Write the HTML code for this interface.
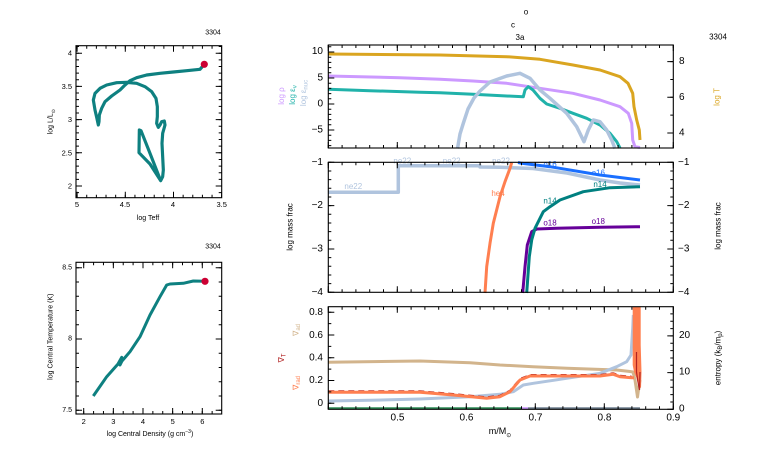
<!DOCTYPE html>
<html><head><meta charset="utf-8"><style>
html,body{margin:0;padding:0;background:#fff;}
svg{display:block;}
text{font-family:"Liberation Sans",sans-serif;}
</style></head><body>
<svg width="766" height="460" viewBox="0 0 766 460" xmlns="http://www.w3.org/2000/svg">
<rect width="766" height="460" fill="#fff"/>

<!-- ============ HR diagram (top-left) ============ -->
<text x="213" y="33" font-size="7" text-anchor="middle" dominant-baseline="central">3304</text>
<g transform="translate(40,30) scale(0.33333)" fill="none" stroke="#0e8080" stroke-width="9.5" stroke-linejoin="round" stroke-linecap="round">
<polyline points="362,452 330,402 297,368 298,300 303,302 330,370 362,452 368,440 370,420 368,380 366,340 368,310 375,285 373,273 365,275 360,285 355,292 350,280 352,260 352,230 348,205 335,185 315,170 290,160 260,157 230,158 200,165 180,175 165,190 160,210 165,240 170,262 175,285 177,275 178,255 185,235 195,215 215,198 240,180 255,165 270,152 290,143 320,135 360,130 400,126 440,122 480,118 493,103"/>
</g>
<circle cx="204.3" cy="64.3" r="3.6" fill="#cc0033"/>
<rect x="76" y="45.7" width="145.7" height="152" fill="none" stroke="#000" stroke-width="1.1"/>
<g stroke="#000" fill="none">
<line x1="76.6" y1="196.2" x2="222" y2="196.2" stroke-width="3" stroke-dasharray="1 8.64"/>
<line x1="76.6" y1="194.7" x2="222" y2="194.7" stroke-width="6" stroke-dasharray="1 47.2"/>
<line x1="76.6" y1="47.2" x2="222" y2="47.2" stroke-width="3" stroke-dasharray="1 8.64"/>
<line x1="76.6" y1="48.7" x2="222" y2="48.7" stroke-width="6" stroke-dasharray="1 47.2"/>
<line x1="77.5" y1="46.06" x2="77.5" y2="197" stroke-width="3" stroke-dasharray="1 5.64"/>
<line x1="79" y1="52.7" x2="79" y2="197" stroke-width="6" stroke-dasharray="1 32.2"/>
<line x1="220.2" y1="46.06" x2="220.2" y2="197" stroke-width="3" stroke-dasharray="1 5.64"/>
<line x1="218.7" y1="52.7" x2="218.7" y2="197" stroke-width="6" stroke-dasharray="1 32.2"/>
</g>
<g font-size="7.5" text-anchor="middle">
<text x="77" y="207">5</text><text x="125" y="207">4.5</text><text x="173" y="207">4</text><text x="221.7" y="207">3.5</text>
</g>
<g font-size="7.5" text-anchor="end" dominant-baseline="central">
<text x="72" y="53.2">4</text><text x="72" y="86.4">3.5</text><text x="72" y="119.6">3</text><text x="72" y="152.8">2.5</text><text x="72" y="186">2</text>
</g>
<text x="148" y="220" font-size="7" text-anchor="middle">log Teff</text>
<text transform="translate(51,121.7) rotate(-90)" font-size="7" text-anchor="middle" dominant-baseline="central">log L/L<tspan font-size="5" baseline-shift="sub">⊙</tspan></text>

<!-- ============ Central T-rho (bottom-left) ============ -->
<text x="213" y="247" font-size="7" text-anchor="middle" dominant-baseline="central">3304</text>
<polyline fill="none" stroke="#0e8080" stroke-width="3" stroke-linejoin="round" points="93.3,396 106.7,376.7 118,364 121.7,357.3 120,365 122,361 130,351.7 140,336.7 150,315 160,296.7 166.7,285 170,284 183.3,283.3 193.3,281 205,281.3"/>
<circle cx="205" cy="281.3" r="3.6" fill="#cc0033"/>
<rect x="76" y="262.3" width="145.7" height="151.7" fill="none" stroke="#000" stroke-width="1.1"/>
<g stroke="#000" fill="none">
<line x1="83.2" y1="412.5" x2="222" y2="412.5" stroke-width="3" stroke-dasharray="1 8.88"/>
<line x1="83.2" y1="411" x2="222" y2="411" stroke-width="6" stroke-dasharray="1 28.65"/>
<line x1="83.2" y1="263.8" x2="222" y2="263.8" stroke-width="3" stroke-dasharray="1 8.88"/>
<line x1="83.2" y1="265.3" x2="222" y2="265.3" stroke-width="6" stroke-dasharray="1 28.65"/>
<line x1="77.5" y1="267.2" x2="77.5" y2="414" stroke-width="3" stroke-dasharray="1 13.26"/>
<line x1="79" y1="267.2" x2="79" y2="414" stroke-width="6" stroke-dasharray="1 70.3"/>
<line x1="220.2" y1="267.2" x2="220.2" y2="414" stroke-width="3" stroke-dasharray="1 13.26"/>
<line x1="218.7" y1="267.2" x2="218.7" y2="414" stroke-width="6" stroke-dasharray="1 70.3"/>
</g>
<g font-size="7.5" text-anchor="middle">
<text x="83.7" y="424">2</text><text x="113.3" y="424">3</text><text x="143" y="424">4</text><text x="172.7" y="424">5</text><text x="202.3" y="424">6</text>
</g>
<g font-size="7" text-anchor="end" dominant-baseline="central">
<text x="72" y="268">8.5</text><text x="72" y="339">8</text><text x="72" y="410.7">7.5</text>
</g>
<text x="150" y="436" font-size="7" text-anchor="middle">log Central Density (g cm<tspan font-size="5" baseline-shift="super">−3</tspan>)</text>
<text transform="translate(51,336.7) rotate(-90)" font-size="7" text-anchor="middle" dominant-baseline="central">log Central Temperature (K)</text>

<!-- ============ Right: top panel ============ -->
<g font-size="8" text-anchor="middle" dominant-baseline="central">
<text x="526" y="12">o</text><text x="513" y="25">c</text><text x="520" y="37.5">3a</text>
<text x="718" y="37">3304</text>
</g>
<g fill="none" stroke-linejoin="round" stroke-width="3">
<polyline stroke="#daa520" points="328.3,54 440,55 506.7,56.7 540,59.3 573,65 600,70 620,76.7 628,83.3 632.7,93.3 634,106.7 636.7,120 639.3,130 640,140"/>
<polyline stroke="#cc99ff" points="328.3,76 400,77.7 440,79.3 473,81 506.7,83.3 540,88.3 573,93.3 600,100 620,106.7 628.3,113.3 631.7,123.3 632.7,140 635,146.7 640,147.5"/>
<polyline stroke="#20b2aa" points="328.3,89.3 370,90.7 420,92.3 440,92.7 473,94.3 506.7,96 523.3,96.7 525,90 528.3,86.7 533,90 540,98.3 546.7,104 560,108.3 573,113.3 586.7,118.3 600,125 610,133.3 616.7,141.7 620,148"/>
<polyline stroke="#b0c4de" stroke-width="3.5" points="457.5,148.5 460,134 463.3,123.3 468,109 474,98 480,91 490,82 506.7,76 520,73.3 530,78.3 540,90 550,98.3 566.7,113.3 576.7,126.7 584,141.7 588.3,130 593.3,120 600,121.7 606.7,130 611.7,140 615,148.5"/>
</g>
<rect x="328.3" y="45" width="345" height="103" fill="none" stroke="#000" stroke-width="1.1"/>

<!-- ============ Right: middle panel ============ -->
<g fill="none" stroke-linejoin="round" stroke-width="3">
<polyline stroke="#b0c4de" stroke-width="3.5" points="328.3,192.3 398.3,192.3 398.3,165.7 480,165.7 480,167 500,167.3 533,168.5 567,173 600,180 620,183 640,185"/>
<polyline stroke="#ff7f50" points="485,293 486.7,266.7 490,243.3 493.3,223.3 500,196.7 505,181.7 510,168.3 511.7,162.7"/>
<polyline stroke="#1a6fff" points="518,162.5 521.7,163.3 550,166.7 600,175 640,180"/>
<polyline stroke="#660099" points="522.7,293 525,266.7 527.3,245 531.7,231.7 536.7,229 556.7,228.3 600,227.3 640,226.7"/>
<polyline stroke="#008080" points="526.7,293 529.3,256.7 531.7,240 535,228.3 543.3,211.7 550,206.7 560,200 583.3,191.7 610,187.7 640,186.7"/>
</g>
<g font-size="8" text-anchor="middle" dominant-baseline="central">
<text x="353.3" y="186.5" fill="#b0c4de">ne22</text>
<text x="402.3" y="161" fill="#b0c4de">ne22</text>
<text x="451.7" y="161" fill="#b0c4de">ne22</text>
<text x="501" y="161" fill="#b0c4de">ne22</text>
<text x="498" y="193.3" fill="#ff7f50">he4</text>
<text x="550" y="164.5" fill="#1a6fff">o16</text>
<text x="598.3" y="173" fill="#1a6fff">o16</text>
<text x="550" y="201" fill="#008080">n14</text>
<text x="600" y="184.5" fill="#008080">n14</text>
<text x="550" y="223" fill="#660099">o18</text>
<text x="598.3" y="221.5" fill="#660099">o18</text>
</g>
<rect x="328.3" y="162.3" width="345" height="130" fill="none" stroke="#000" stroke-width="1.1"/>

<!-- ============ Right: bottom panel ============ -->
<g fill="none" stroke-linejoin="round">
<polyline stroke="#2e8b57" stroke-width="2.2" points="328.3,408.3 521,408.3"/>
<polyline stroke="#cc99ff" stroke-width="2.2" points="521,408.3 528,408.3"/>
<polyline stroke="#708090" stroke-width="2.2" points="528,408.3 640,408.3"/>
<polyline stroke="#d2b48c" stroke-width="3" points="328.3,362.3 420,361 470,362.7 500,365 533,366.7 567,368.3 616.7,370 630,371.5 633,372 635,380 637.5,397 639,386 640,380"/>
<polyline stroke="#b0c4de" stroke-width="3" points="328.3,401 370,400.3 420,399 470,396.7 500,394.3 513.3,391.7 523.3,385 533.3,383.3 566.7,378.3 600,373.3 616.7,366.7 626.7,361.7 631,355 632.7,328.3 633.3,315"/>
<polyline stroke="#b22222" stroke-width="1.8" stroke-dasharray="6 4" points="328.3,391.2 420,391.2 453.3,393.9 486.7,397.2 500,395.6 510,390.6 520,378.9 530,374.9 566.7,374.9 600,374.9 613.3,373.2 620,375.6 631.7,376.6"/>
<polyline stroke="#ff7f50" stroke-width="3" points="328.3,392.3 420,392.3 453.3,395 486.7,398.3 500,396.7 510,391.7 520,380 530,376 566.7,376 600,376 613.3,374.3 620,376.7 631.7,377.7 634,377.7"/>
</g>
<polygon fill="#ff7f50" points="632.7,306.7 640.7,306.7 640.7,345 641.5,372 641,388 638.5,386 636.5,378 634,372 632.7,365"/>
<polyline fill="none" stroke="#b22222" stroke-width="1.2" points="636.5,352 636.5,372 638,382 639.5,390 640,372"/>
<rect x="328.3" y="306.7" width="345" height="102.6" fill="none" stroke="#000" stroke-width="1.1"/>

<!-- ticks, right panels -->
<g stroke="#000" fill="none">
<line x1="327.8" y1="146.5" x2="674" y2="146.5" stroke-width="3" stroke-dasharray="1 12.8"/>
<line x1="327.8" y1="145" x2="674" y2="145" stroke-width="6" stroke-dasharray="1 68"/>
<line x1="327.8" y1="46.5" x2="674" y2="46.5" stroke-width="3" stroke-dasharray="1 12.8"/>
<line x1="327.8" y1="48" x2="674" y2="48" stroke-width="6" stroke-dasharray="1 68"/>
<line x1="327.8" y1="163.8" x2="674" y2="163.8" stroke-width="3" stroke-dasharray="1 12.8"/>
<line x1="327.8" y1="165.3" x2="674" y2="165.3" stroke-width="6" stroke-dasharray="1 68"/>
<line x1="327.8" y1="290.8" x2="674" y2="290.8" stroke-width="3" stroke-dasharray="1 12.8"/>
<line x1="327.8" y1="289.3" x2="674" y2="289.3" stroke-width="6" stroke-dasharray="1 68"/>
<line x1="327.8" y1="308.2" x2="674" y2="308.2" stroke-width="3" stroke-dasharray="1 12.8"/>
<line x1="327.8" y1="309.7" x2="674" y2="309.7" stroke-width="6" stroke-dasharray="1 68"/>
<line x1="327.8" y1="407.8" x2="674" y2="407.8" stroke-width="3" stroke-dasharray="1 12.8"/>
<line x1="327.8" y1="406.3" x2="674" y2="406.3" stroke-width="6" stroke-dasharray="1 68"/>
<line x1="329.8" y1="46.3" x2="329.8" y2="148" stroke-width="3" stroke-dasharray="1 4.2"/>
<line x1="331.3" y1="51.5" x2="331.3" y2="148" stroke-width="6" stroke-dasharray="1 25"/>
<line x1="671.8" y1="61.1" x2="671.8" y2="134" stroke-width="3" stroke-dasharray="1 16.85"/>
<line x1="670.3" y1="61.1" x2="670.3" y2="134" stroke-width="6" stroke-dasharray="1 34.7"/>
<line x1="329.8" y1="161.8" x2="329.8" y2="293" stroke-width="3" stroke-dasharray="1 7.667"/>
<line x1="331.3" y1="161.8" x2="331.3" y2="293" stroke-width="6" stroke-dasharray="1 42.33"/>
<line x1="671.8" y1="161.8" x2="671.8" y2="293" stroke-width="3" stroke-dasharray="1 7.667"/>
<line x1="670.3" y1="161.8" x2="670.3" y2="293" stroke-width="6" stroke-dasharray="1 42.33"/>
<line x1="329.8" y1="311.8" x2="329.8" y2="404" stroke-width="3" stroke-dasharray="1 10.375"/>
<line x1="331.3" y1="311.8" x2="331.3" y2="404" stroke-width="6" stroke-dasharray="1 21.75"/>
<line x1="671.8" y1="313.4" x2="671.8" y2="410" stroke-width="3" stroke-dasharray="1 6.34"/>
<line x1="670.3" y1="335.4" x2="670.3" y2="410" stroke-width="6" stroke-dasharray="1 35.7"/>
</g>

<!-- tick labels -->
<g font-size="10" dominant-baseline="central" text-anchor="end">
<text x="323" y="51.7">10</text><text x="323" y="78">5</text><text x="323" y="104">0</text><text x="323" y="130">−5</text>
<text x="323" y="162.3">−1</text><text x="323" y="205.7">−2</text><text x="323" y="249">−3</text><text x="323" y="292.3">−4</text>
<text x="323" y="312.3">0.8</text><text x="323" y="335.3">0.6</text><text x="323" y="358">0.4</text><text x="323" y="380.7">0.2</text><text x="323" y="403.3">0</text>
</g>
<g font-size="10" dominant-baseline="central" text-anchor="start">
<text x="679" y="61.7">8</text><text x="679" y="97.3">6</text><text x="679" y="133">4</text>
<text x="678" y="162.3">−1</text><text x="678" y="205.7">−2</text><text x="678" y="249">−3</text><text x="678" y="292.3">−4</text>
<text x="679" y="335.5">20</text><text x="679" y="372.2">10</text><text x="679" y="409">0</text>
</g>
<g font-size="10" text-anchor="middle" dominant-baseline="central">
<text x="397.5" y="418">0.5</text><text x="466.5" y="418">0.6</text><text x="535.5" y="418">0.7</text><text x="604.5" y="418">0.8</text><text x="673.3" y="418">0.9</text>
</g>
<text x="500" y="434" font-size="9" text-anchor="middle">m/M<tspan font-size="6" baseline-shift="sub">⊙</tspan></text>

<!-- axis labels right panels -->
<g font-size="8" text-anchor="middle" dominant-baseline="central">
<text transform="translate(281.3,96) rotate(-90)" fill="#cc99ff">log ρ</text>
<text transform="translate(292.5,95) rotate(-90)" fill="#20b2aa">log ε<tspan font-size="6" baseline-shift="sub">ν</tspan></text>
<text transform="translate(303.5,93) rotate(-90)" fill="#b0c4de">log ε<tspan font-size="6" baseline-shift="sub">nuc</tspan></text>
<text transform="translate(717,97) rotate(-90)" fill="#daa520">log T</text>
<text transform="translate(290,227) rotate(-90)">log mass frac</text>
<text transform="translate(718,226) rotate(-90)">log mass frac</text>
<text transform="translate(296,330) rotate(-90)" fill="#d2b48c">∇<tspan font-size="6" baseline-shift="sub">ad</tspan></text>
<text transform="translate(281.5,358) rotate(-90)" fill="#b22222">∇<tspan font-size="6" baseline-shift="sub">T</tspan></text>
<text transform="translate(296,383) rotate(-90)" fill="#ff7f50">∇<tspan font-size="6" baseline-shift="sub">rad</tspan></text>
<text transform="translate(718,358) rotate(-90)">entropy (k<tspan font-size="6" baseline-shift="sub">B</tspan>/m<tspan font-size="6" baseline-shift="sub">p</tspan>)</text>
</g>
</svg>
</body></html>
